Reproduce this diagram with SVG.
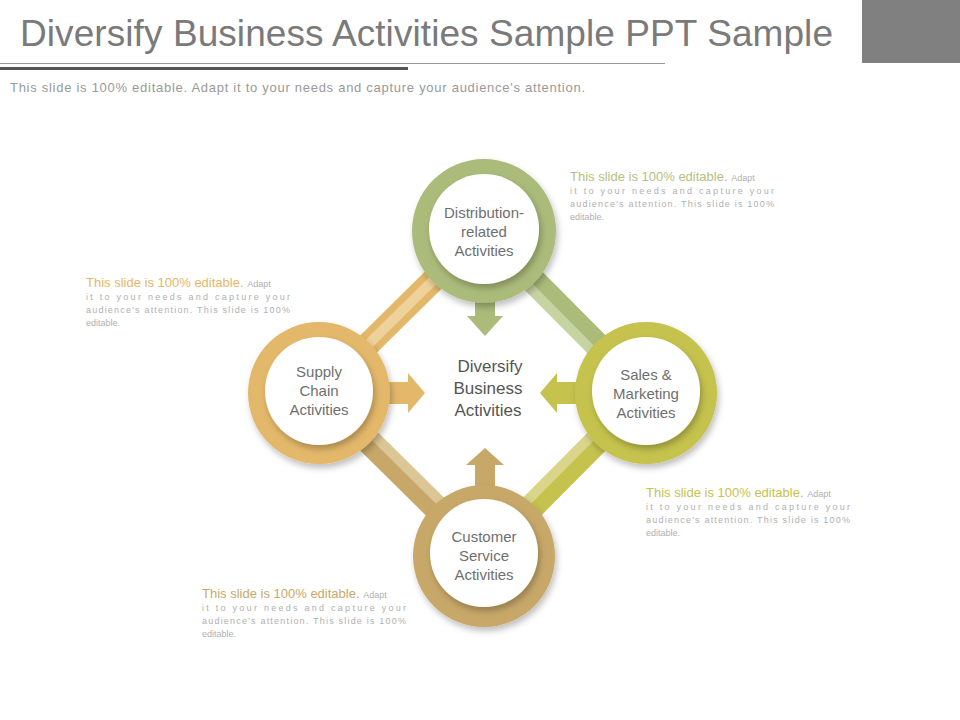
<svg xmlns="http://www.w3.org/2000/svg" width="960" height="720" viewBox="0 0 960 720">
<defs>
<style>
text{font-family:"Liberation Sans",Arial,sans-serif}
.lbl{font-size:15px;fill:#6f6f6f;text-anchor:middle}
.hd{font-size:13px}
.sm{font-size:9px;fill:#b0b0b0}
.inner{fill:#fff}
</style>
<filter id="sh" x="-20%" y="-20%" width="140%" height="140%"><feDropShadow dx="2" dy="4" stdDeviation="3" flood-color="#000" flood-opacity="0.25"/></filter>
</defs>
<rect width="960" height="720" fill="#fff"/>
<rect x="862" y="0" width="98" height="63" fill="#808080"/>
<text x="20" y="46" textLength="813" style="font-size:37px;fill:#7a7a7a">Diversify Business Activities Sample PPT Sample</text>
<rect x="0" y="63" width="665" height="1" fill="#999"/>
<rect x="0" y="67" width="408" height="3" fill="#555"/>
<text x="10" y="92" textLength="575" style="font-size:13px;fill:#999">This slide is 100% editable. Adapt it to your needs and capture your audience's attention.</text>

<g id="connectors">
<line x1="484" y1="230" x2="319" y2="393" stroke="#e3b86a" stroke-width="24"/>
<line x1="478" y1="236" x2="313" y2="399" stroke="#efd29b" stroke-width="10"/>
<line x1="484" y1="230" x2="646" y2="393" stroke="#aabb7a" stroke-width="24"/>
<line x1="478" y1="236" x2="640" y2="399" stroke="#c6d3a3" stroke-width="10"/>
<line x1="319" y1="393" x2="484" y2="556" stroke="#c8a869" stroke-width="24"/>
<line x1="325" y1="387" x2="490" y2="550" stroke="#dcc696" stroke-width="10"/>
<line x1="646" y1="393" x2="484" y2="556" stroke="#c5c34e" stroke-width="24"/>
<line x1="640" y1="387" x2="478" y2="550" stroke="#d9d68a" stroke-width="10"/>
<path d="M475 290h20v26h8l-18 20l-18-20h8z" fill="#aabb7a"/>
<path d="M370 382h38v-9l17 20l-17 20v-9h-38z" fill="#e3b86a"/>
<path d="M600 382h-43v-9l-17 20l17 20v-9h43z" fill="#c5c34e"/>
<path d="M475 500v-35h-9l19-17l19 17h-9v35z" fill="#c8a869"/>
</g>

<g id="n-top"><circle cx="484" cy="231" r="72" fill="#aabb7a" filter="url(#sh)"/><circle cx="484" cy="229" r="55" class="inner" filter="url(#sh)"/>
<text class="lbl" x="484" y="218">Distribution-</text><text class="lbl" x="484" y="237">related</text><text class="lbl" x="484" y="256">Activities</text></g>
<g id="n-left"><circle cx="319" cy="393" r="71" fill="#e3b86a" filter="url(#sh)"/><circle cx="319" cy="391" r="54" class="inner" filter="url(#sh)"/>
<text class="lbl" x="319" y="377">Supply</text><text class="lbl" x="319" y="396">Chain</text><text class="lbl" x="319" y="415">Activities</text></g>
<g id="n-right"><circle cx="646" cy="393" r="71" fill="#c5c34e" filter="url(#sh)"/><circle cx="646" cy="391" r="54" class="inner" filter="url(#sh)"/>
<text class="lbl" x="646" y="380">Sales &amp;</text><text class="lbl" x="646" y="399">Marketing</text><text class="lbl" x="646" y="418">Activities</text></g>
<g id="n-bottom"><circle cx="484" cy="556" r="71" fill="#c8a869" filter="url(#sh)"/><circle cx="484" cy="553" r="54" class="inner" filter="url(#sh)"/>
<text class="lbl" x="484" y="542">Customer</text><text class="lbl" x="484" y="561">Service</text><text class="lbl" x="484" y="580">Activities</text></g>
<g id="center"><text x="490" y="372" style="font-size:17px;fill:#555;text-anchor:middle">Diversify</text><text x="488" y="394" style="font-size:17px;fill:#555;text-anchor:middle">Business</text><text x="488" y="416" style="font-size:17px;fill:#555;text-anchor:middle">Activities</text></g>

<g id="t-top"><text x="570" y="181"><tspan class="hd" fill="#b5c07f">This slide is 100% editable. </tspan><tspan class="sm">Adapt</tspan></text>
<text class="sm" x="570" y="194" textLength="204">it to your needs and capture your</text>
<text class="sm" x="570" y="207" textLength="204">audience's attention. This slide is 100%</text>
<text class="sm" x="570" y="220">editable.</text></g>
<g id="t-left"><text x="86" y="287"><tspan class="hd" fill="#e3b86a">This slide is 100% editable. </tspan><tspan class="sm">Adapt</tspan></text>
<text class="sm" x="86" y="300" textLength="204">it to your needs and capture your</text>
<text class="sm" x="86" y="313" textLength="204">audience's attention. This slide is 100%</text>
<text class="sm" x="86" y="326">editable.</text></g>
<g id="t-right"><text x="646" y="497"><tspan class="hd" fill="#c5c34e">This slide is 100% editable. </tspan><tspan class="sm">Adapt</tspan></text>
<text class="sm" x="646" y="510" textLength="204">it to your needs and capture your</text>
<text class="sm" x="646" y="523" textLength="204">audience's attention. This slide is 100%</text>
<text class="sm" x="646" y="536">editable.</text></g>
<g id="t-bottom"><text x="202" y="598"><tspan class="hd" fill="#c8a869">This slide is 100% editable. </tspan><tspan class="sm">Adapt</tspan></text>
<text class="sm" x="202" y="611" textLength="204">it to your needs and capture your</text>
<text class="sm" x="202" y="624" textLength="204">audience's attention. This slide is 100%</text>
<text class="sm" x="202" y="637">editable.</text></g>
</svg>
